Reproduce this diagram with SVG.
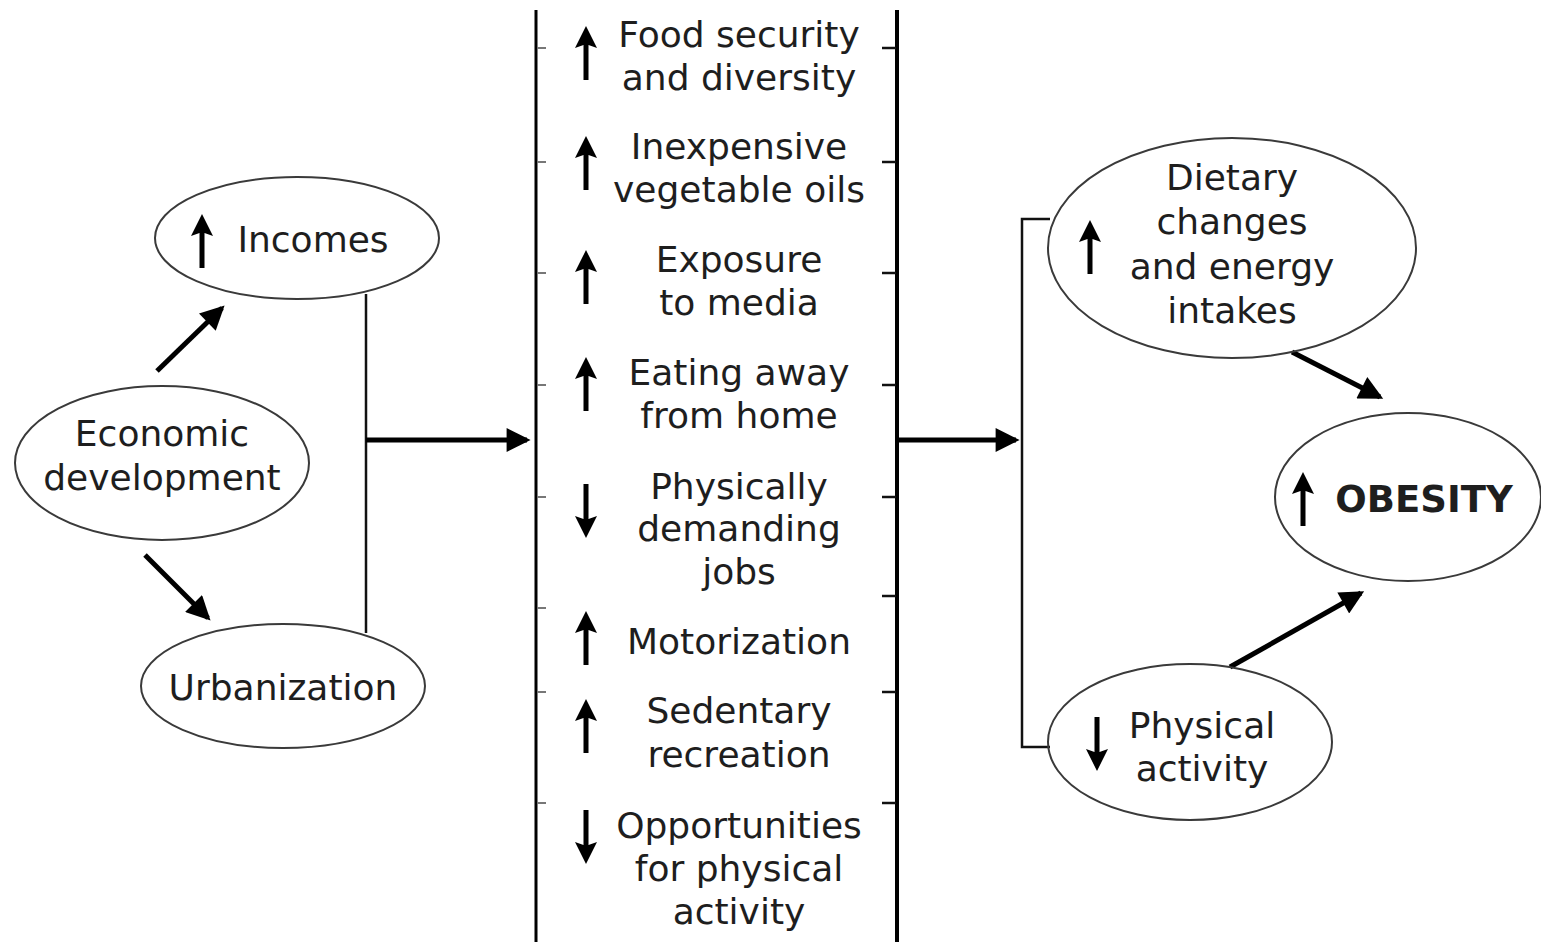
<svg xmlns="http://www.w3.org/2000/svg" width="1541" height="946" viewBox="0 0 1541 946">
<style>
  text { font-family: "DejaVu Sans", Verdana, sans-serif; font-size: 36px; fill: #1e1e1e; text-anchor: middle; }
  .bold { font-weight: bold; font-size: 37px; }
  ellipse { fill: none; stroke: #3a3a3a; stroke-width: 2; }
  .conn { stroke: #000; stroke-width: 5; fill: none; marker-end: url(#ah); }
  .br { stroke: #111; stroke-width: 2.5; fill: none; }
  .col { stroke: #000; stroke-width: 3; }
  .tl { stroke: #777; stroke-width: 2; }
  .tr { stroke: #111; stroke-width: 2.5; }
</style>
<defs>
  <marker id="ah" viewBox="0 0 10 10" refX="8.5" refY="5" markerWidth="28" markerHeight="24" markerUnits="userSpaceOnUse" orient="auto">
    <path d="M0,0 L10,5 L0,10 z" fill="#000"/>
  </marker>
  <g id="up">
    <path d="M0,0 L11,22 L2.5,19 L2.5,54 L-2.5,54 L-2.5,19 L-11,22 z" fill="#000"/>
  </g>
  <g id="down">
    <path d="M0,54 L11,32 L2.5,35 L2.5,0 L-2.5,0 L-2.5,35 L-11,32 z" fill="#000"/>
  </g>
</defs>
<rect width="1541" height="946" fill="#fff"/>

<g id="connectors">
  <line class="conn" x1="157" y1="371" x2="222" y2="308"/>
  <line class="conn" x1="145" y1="555" x2="208" y2="618"/>
  <line class="br" x1="366" y1="294" x2="366" y2="633"/>
  <line class="conn" x1="366" y1="440" x2="527" y2="440"/>
  <line class="conn" x1="898" y1="440" x2="1016" y2="440"/>
  <polyline class="br" points="1050,219 1022,219 1022,747 1050,747"/>
  <line class="conn" x1="1292" y1="352" x2="1380" y2="397"/>
  <line class="conn" x1="1230" y1="667" x2="1361" y2="593"/>
</g>

<g id="column">
  <line class="col" x1="536" y1="10" x2="536" y2="942"/>
  <line class="col" x1="897" y1="10" x2="897" y2="942" style="stroke-width:4"/>
  <line class="tl" x1="537" y1="48" x2="546" y2="48"/>
  <line class="tl" x1="537" y1="162" x2="546" y2="162"/>
  <line class="tl" x1="537" y1="273" x2="546" y2="273"/>
  <line class="tl" x1="537" y1="385" x2="546" y2="385"/>
  <line class="tl" x1="537" y1="497" x2="546" y2="497"/>
  <line class="tl" x1="537" y1="608" x2="546" y2="608"/>
  <line class="tl" x1="537" y1="692" x2="546" y2="692"/>
  <line class="tl" x1="537" y1="803" x2="546" y2="803"/>
  <line class="tr" x1="882" y1="48" x2="896" y2="48"/>
  <line class="tr" x1="882" y1="162" x2="896" y2="162"/>
  <line class="tr" x1="882" y1="273" x2="896" y2="273"/>
  <line class="tr" x1="882" y1="385" x2="896" y2="385"/>
  <line class="tr" x1="882" y1="497" x2="896" y2="497"/>
  <line class="tr" x1="882" y1="596" x2="896" y2="596"/>
  <line class="tr" x1="882" y1="692" x2="896" y2="692"/>
  <line class="tr" x1="882" y1="803" x2="896" y2="803"/>
</g>

<g id="food">
  <use href="#up" x="586" y="26"/>
  <text x="739" y="47">Food security</text>
  <text x="739" y="90">and diversity</text>
</g>
<g id="oils">
  <use href="#up" x="586" y="136"/>
  <text x="739" y="159">Inexpensive</text>
  <text x="739" y="202">vegetable oils</text>
</g>
<g id="media">
  <use href="#up" x="586" y="250"/>
  <text x="739" y="272">Exposure</text>
  <text x="739" y="315">to media</text>
</g>
<g id="eating">
  <use href="#up" x="586" y="357"/>
  <text x="739" y="385">Eating away</text>
  <text x="739" y="428">from home</text>
</g>
<g id="jobs">
  <use href="#down" x="586" y="484"/>
  <text x="739" y="499">Physically</text>
  <text x="739" y="541">demanding</text>
  <text x="739" y="584">jobs</text>
</g>
<g id="motor">
  <use href="#up" x="586" y="611"/>
  <text x="739" y="654">Motorization</text>
</g>
<g id="sedentary">
  <use href="#up" x="586" y="699"/>
  <text x="739" y="723">Sedentary</text>
  <text x="739" y="767">recreation</text>
</g>
<g id="opportunities">
  <use href="#down" x="586" y="810"/>
  <text x="739" y="838">Opportunities</text>
  <text x="739" y="881">for physical</text>
  <text x="739" y="924">activity</text>
</g>

<g id="economic">
  <ellipse cx="162" cy="463" rx="147" ry="77"/>
  <text x="162" y="446">Economic</text>
  <text x="162" y="490">development</text>
</g>
<g id="incomes">
  <ellipse cx="297" cy="238" rx="142" ry="61"/>
  <use href="#up" x="202" y="214"/>
  <text x="313" y="252">Incomes</text>
</g>
<g id="urbanization">
  <ellipse cx="283" cy="686" rx="142" ry="62"/>
  <text x="283" y="700">Urbanization</text>
</g>
<g id="dietary">
  <ellipse cx="1232" cy="248" rx="184" ry="110"/>
  <use href="#up" x="1090" y="220"/>
  <text x="1232" y="190">Dietary</text>
  <text x="1232" y="234">changes</text>
  <text x="1232" y="279">and energy</text>
  <text x="1232" y="323">intakes</text>
</g>
<g id="obesity">
  <ellipse cx="1408" cy="497" rx="133" ry="84"/>
  <use href="#up" x="1303" y="472"/>
  <text class="bold" x="1424" y="512">OBESITY</text>
</g>
<g id="physical">
  <ellipse cx="1190" cy="742" rx="142" ry="78"/>
  <use href="#down" x="1097" y="717"/>
  <text x="1202" y="738">Physical</text>
  <text x="1202" y="781">activity</text>
</g>
</svg>
